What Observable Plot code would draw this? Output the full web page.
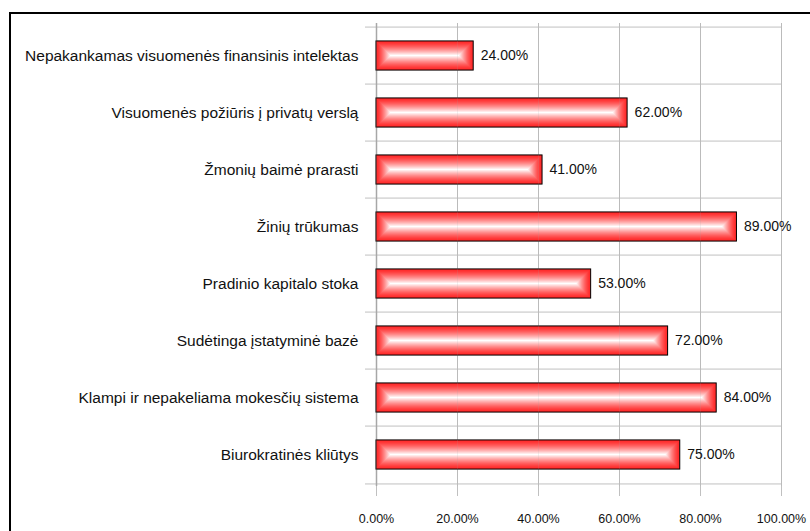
<!DOCTYPE html>
<html>
<head>
<meta charset="utf-8">
<script src="https://cdn.jsdelivr.net/npm/d3@7"></script>
<script src="https://cdn.jsdelivr.net/npm/@observablehq/plot@0.6"></script>
<style>
  html, body { margin: 0; padding: 0; background: #fff; }
  #wrap { position: relative; width: 810px; height: 531px; overflow: hidden; background: #fff; }
  #border { position: absolute; left: 9px; top: 12px; width: 900px; height: 600px; border: 2px solid #000; box-sizing: border-box; pointer-events: none; }
  #chart { position: absolute; left: 0; top: 0; }
</style>
</head>
<body>
<div id="wrap"><div id="border"></div><div id="chart"></div></div>
<script>
const categories = [
  "Nepakankamas visuomenės finansinis intelektas",
  "Visuomenės požiūris į privatų verslą",
  "Žmonių baimė prarasti",
  "Žinių trūkumas",
  "Pradinio kapitalo stoka",
  "Sudėtinga įstatyminė bazė",
  "Klampi ir nepakeliama mokesčių sistema",
  "Biurokratinės kliūtys"
];
const values = [0.24, 0.62, 0.41, 0.89, 0.53, 0.72, 0.84, 0.75];
const xTicks = [0, 0.2, 0.4, 0.6, 0.8, 1.0];

const data = categories.map((c, i) => ({category: c, value: values[i]}));

const W = 810, H = 531, mT = 23, mB = 45, mL = 376, mR = 29;
const step = (H - mT - mB) / categories.length;
const barH = 30;
const baseInset = (step - barH) / 2;
const fmt = d3.format(".2%");

// nested rectangles to mimic a rectangular (center-out) gradient
const layers = 15;
const colorAt = d3.interpolateRgb("#ff2a2a", "#ffffff");
const gradientMarks = d3.range(layers).map(i => {
  const t = Math.pow(i / (layers - 1), 1.4);
  return Plot.barX(data, {
    x: "value", y: "category",
    fill: colorAt(t),
    insetTop: baseInset + i, insetBottom: baseInset + i,
    insetLeft: i, insetRight: i
  });
});

const lastCat = categories[categories.length - 1];

const chart = Plot.plot({
  width: W, height: H,
  marginTop: mT, marginBottom: mB, marginLeft: mL, marginRight: mR,
  style: {fontFamily: "'Liberation Sans', Arial, sans-serif", background: "transparent", color: "#000"},
  x: {domain: [0, 1], label: null},
  y: {domain: categories, padding: 0, label: null},
  marks: [
    Plot.gridX(xTicks, {stroke: "#c0c0c0", strokeOpacity: 1}),
    Plot.ruleY(categories, {y: d => d, dy: -step / 2, insetLeft: -11, stroke: "#c0c0c0"}),
    Plot.ruleY([lastCat], {y: d => d, dy: step / 2, insetLeft: -11, stroke: "#c0c0c0"}),
    Plot.ruleX([0], {stroke: "#a8a8a8", strokeWidth: 1.5}),
    ...gradientMarks,
    Plot.barX(data, {x: "value", y: "category", fill: "none", stroke: "#000", strokeWidth: 1, insetTop: baseInset, insetBottom: baseInset}),
    Plot.gridX(xTicks, {stroke: "#a0a0a0", strokeOpacity: 0.15}),
    Plot.text(data, {x: "value", y: "category", text: d => fmt(d.value), dx: 7, textAnchor: "start", fontSize: 14, fill: "#111"}),
    Plot.axisX({ticks: xTicks, tickFormat: fmt, tickSize: 10, tickPadding: 18, stroke: "#c0c0c0", fill: "#111", fontSize: 12.5, label: null}),
    Plot.axisY({tickSize: 0, tickPadding: 18, fill: "#111", fontSize: 15.5, label: null})
  ]
});
document.getElementById("chart").appendChild(chart);
</script>
</body>
</html>
